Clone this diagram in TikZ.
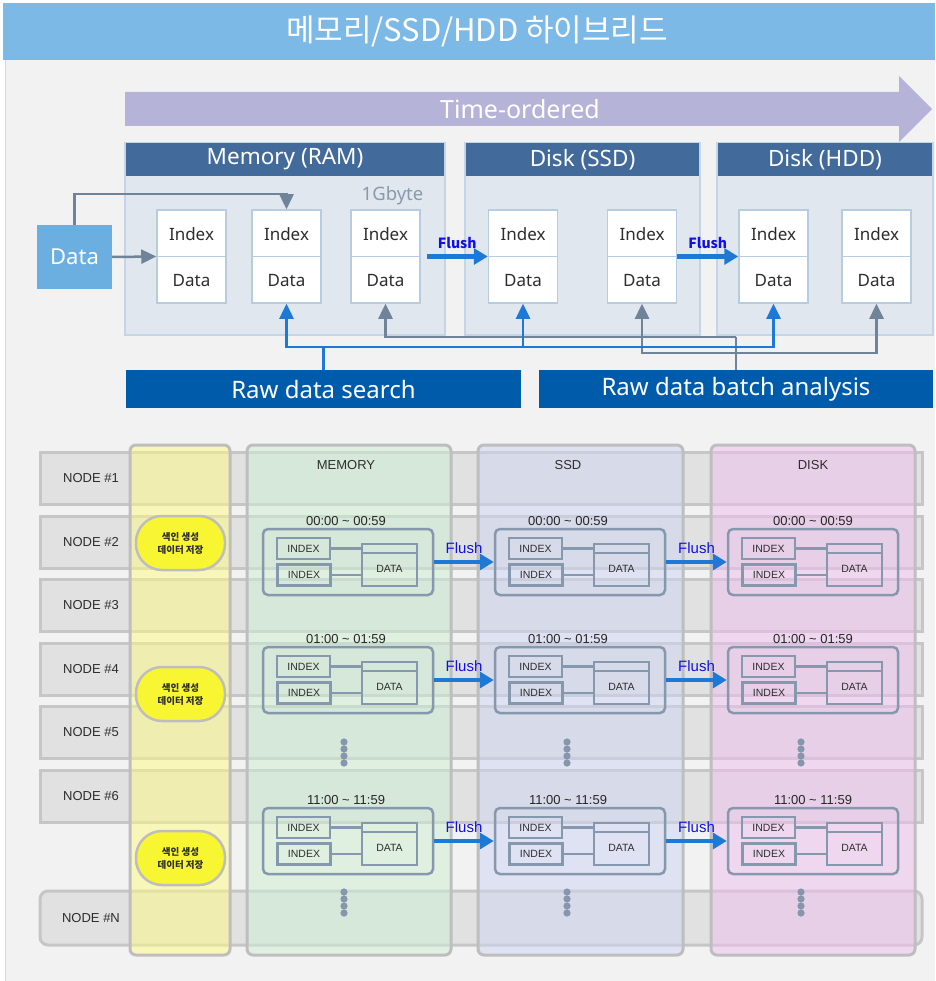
\documentclass[tikz,border=0pt]{standalone}
\usepackage{fontspec}
\setmainfont{Noto Sans}
\newfontfamily\kr{Noto Sans CJK KR}
\newfontfamily\arialish{Liberation Sans}
\usetikzlibrary{arrows.meta,calc}

\definecolor{titlebg}{RGB}{125,185,230}
\definecolor{pagebg}{RGB}{242,242,242}
\definecolor{timearrow}{RGB}{181,180,216}
\definecolor{hdrblue}{RGB}{66,106,154}
\definecolor{panelfill}{RGB}{225,231,239}
\definecolor{panelline}{RGB}{197,213,230}
\definecolor{boxline}{RGB}{184,204,224}
\definecolor{datablue}{RGB}{106,175,224}
\definecolor{connGray}{RGB}{111,131,153}
\definecolor{connBlue}{RGB}{30,120,214}
\definecolor{flushtxt}{RGB}{16,16,230}
\definecolor{darkbar}{RGB}{0,91,170}
\definecolor{gbyte}{RGB}{138,154,170}
\definecolor{bandfill}{RGB}{225,225,225}
\definecolor{bandline}{RGB}{198,198,198}
\definecolor{colline}{RGB}{190,190,190}
\definecolor{segcol}{RGB}{134,152,174}
\definecolor{dotc}{RGB}{134,150,172}
\definecolor{pill}{RGB}{248,246,50}
\definecolor{textdark}{RGB}{45,45,45}
\definecolor{colyellow}{RGB}{255,250,130}
\definecolor{colgreen}{RGB}{205,240,210}
\definecolor{colblue}{RGB}{205,212,242}
\definecolor{colpink}{RGB}{240,190,240}

% one segment: frame, two INDEX boxes and a DATA box
\newcommand\segbox[3]{%
  \node[segframe] (#1) at (#2+85,#3+33) {};
  \node[ixbox] (#1a) at (#2+40.5,#3+19.5) {INDEX};
  \node[ixbox] (#1b) at (#2+41,#3+46) {INDEX};
  \node[dxbox] (#1d) at (#2+126.5,#3+36) {};
  \draw[segln] ([yshift=-10pt]#1d.north west) -- ([yshift=-10pt]#1d.north east);
  \node[ixtxt] (#1t) at (#2+126.5,#3+40) {DATA};
  \draw[segln] (#1a.east) -- (#1a.east -| #1d.west);
  \draw[segln] (#1b.east) -- (#1b.east -| #1d.west);
}
% four stacked dots
\newcommand\dotcol[2]{%
  \foreach \k in {0,1,2,3} \fill[dotc] (#1,#2+7*\k) circle (3.6pt);
}

\begin{document}
\begin{tikzpicture}[x=1pt,y=-1pt,
  ibox/.style={draw=boxline, line width=1.5pt, fill=white, minimum width=69pt, minimum height=93pt, inner sep=0},
  itxt/.style={font=\fontsize{17}{20}\selectfont, text=textdark},
  panel/.style={draw=panelline, fill=panelfill, line width=2pt, minimum height=192pt, inner sep=0},
  phead/.style={fill=hdrblue, text=white, minimum height=33pt, inner sep=0, font=\fontsize{22.5}{24}\selectfont},
  garrow/.style={draw=connGray, line width=2.5pt, -{Triangle[width=14pt,length=15pt]}},
  gline/.style={draw=connGray, line width=2.5pt},
  barrow/.style={draw=connBlue, line width=2.5pt, -{Triangle[width=14pt,length=15pt]}},
  bline/.style={draw=connBlue, line width=2.5pt},
  flusharrow/.style={draw=connBlue, line width=4.5pt, -{Triangle[width=16pt,length=14pt]}},
  flushlab/.style={text=flushtxt, font=\kr\bfseries\fontsize{14}{16}\selectfont, inner sep=1pt},
  flushlabb/.style={text=flushtxt, font=\arialish\fontsize{15}{17}\selectfont, inner sep=1pt},
  bar/.style={fill=darkbar, text=white, minimum height=38pt, inner sep=0, font=\fontsize{24}{27}\selectfont},
  band/.style={draw=bandline, fill=bandfill, line width=3pt, minimum width=882pt, minimum height=52pt, inner sep=0},
  bandlab/.style={text=textdark, font=\arialish\fontsize{13}{15}\selectfont},
  colbox/.style={draw=colline, line width=3pt, rounded corners=6pt, fill opacity=0.5, minimum height=510pt, inner sep=0},
  coltitle/.style={text=textdark, font=\arialish\fontsize{13}{15}\selectfont},
  pillnode/.style={draw=colline, line width=2.5pt, fill=pill, rounded corners=26pt, minimum width=89pt, minimum height=54pt, inner sep=0, align=center, font=\kr\bfseries\fontsize{9.5}{13}\selectfont, text=textdark},
  timelab/.style={text=black!85, font=\arialish\fontsize{13}{15}\selectfont},
  segframe/.style={draw=segcol, line width=2.5pt, rounded corners=5pt, minimum width=170pt, minimum height=66pt, inner sep=0},
  ixbox/.style={draw=segcol, line width=2.5pt, minimum width=53pt, minimum height=21pt, inner sep=0, font=\arialish\fontsize{10.5}{12}\selectfont, text=textdark},
  dxbox/.style={draw=segcol, line width=2.5pt, minimum width=55pt, minimum height=42pt, inner sep=0},
  ixtxt/.style={font=\arialish\fontsize{10.5}{12}\selectfont, text=textdark},
  segln/.style={draw=segcol, line width=2.5pt}
]
\useasboundingbox (0,0) rectangle (935,981);
\fill[white] (0,0) rectangle (935,981);
\fill[pagebg] (5,60) rectangle (935,981);
\draw[black!15, line width=1pt] (5.5,60) -- (5.5,981);

% title bar
\node[fill=titlebg, minimum width=932pt, minimum height=57pt, inner sep=0] (title) at (469,31.5) {};
\node[text=white, font=\kr\fontsize{31}{34}\selectfont] (titletxt) at (477,31) {메모리/SSD/HDD 하이브리드};

% time arrow
\fill[timearrow] (125,92) -- (899,92) -- (899,76) -- (932,109) -- (899,142) -- (899,126) -- (125,126) -- cycle;
\node[text=white, font=\fontsize{25}{28}\selectfont] (timelbl) at (520,109) {Time-ordered};

% storage panels
\node[panel, minimum width=320pt] (pm) at (285,239) {};
\node[phead, minimum width=318pt] (pmh) at (285,159.5) {Memory (RAM)};
\node[panel, minimum width=235pt] (ps) at (582.5,239) {};
\node[phead, minimum width=233pt] (psh) at (582.5,159.5) {Disk (SSD)};
\node[panel, minimum width=216pt] (ph) at (825,239) {};
\node[phead, minimum width=214pt] (phh) at (825,159.5) {Disk (HDD)};
\node[text=gbyte, font=\fontsize{18.5}{21}\selectfont] (gb) at (392.5,196) {1Gbyte};

% index/data stacks
\foreach \nm/\xx in {m1/191.5, m2/286.5, m3/385.5, s1/523, s2/642, h1/773.5, h2/876.5}{
  \node[ibox] (\nm) at (\xx,256.5) {};
  \draw[boxline, line width=1.5pt] (\nm.west) -- (\nm.east);
  \node[itxt] (\nm i) at (\xx,234) {Index};
  \node[itxt] (\nm d) at (\xx,281) {Data};
}

% incoming data
\node[fill=datablue, text=white, minimum width=75pt, minimum height=64pt, inner sep=0, font=\fontsize{22}{24}\selectfont] (dat) at (74.5,257) {Data};
\draw[garrow] (dat.east) -- (m1.west);
\draw[garrow] (dat.north) |- ($(m2.north)+(0,-15)$) -- (m2.north);

% flush between tiers
\draw[flusharrow] ([xshift=6pt]m3.east) -- (s1.west) node[flushlab, midway, above=5pt] (fl1) {Flush};
\draw[flusharrow] (s2.east) -- (h1.west) node[flushlab, midway, above=5pt] (fl2) {Flush};

% query bars
\node[bar, minimum width=395pt] (srch) at (323.5,389) {Raw data search};
\node[bar, minimum width=394pt] (batch) at (736,389) {Raw data batch analysis};

\coordinate (busA) at (323.5,347);
\coordinate (busB) at (736,337);
\coordinate (busC) at (736,353);
\draw[gline] (batch.north) -- (busB);
\draw[garrow] (busB) -| (m3.south);
\draw[garrow] (busC) -| (s2.south);
\draw[garrow] (busC) -| (h2.south);
\draw[bline] (srch.north) -- (busA);
\draw[barrow] (busA) -| (m2.south);
\draw[barrow] (busA) -| (s1.south);
\draw[barrow] (busA) -| (h1.south);

% node rows
\foreach \nm/\yy/\lab in {n1/478/1, n2/542/2, n3/605.5/3, n4/669/4, n5/732.5/5, n6/796.5/6}{
  \node[band] (\nm) at (481,\yy) {};
  \node[bandlab] (\nm l) at (91,\yy) {NODE \#\lab};
}
\node[band, rounded corners=8pt, minimum height=54pt] (nN) at (481,918) {};
\node[bandlab] (nNl) at (91,918) {NODE \#N};

% tier columns
\node[colbox, fill=colyellow, minimum width=100pt] (cy) at (180,700) {};
\node[colbox, fill=colgreen, minimum width=204pt] (cm) at (349,700) {};
\node[colbox, fill=colblue, minimum width=205pt] (cs) at (580.5,700) {};
\node[colbox, fill=colpink, minimum width=204pt] (cd) at (813,700) {};
\node[coltitle] (cmt) at (346,465) {MEMORY};
\node[coltitle] (cst) at (568,465) {SSD};
\node[coltitle] (cdt) at (813,465) {DISK};

% index builders
\node[pillnode] (e1) at (180.5,543) {색인 생성\\데이터 저장};
\node[pillnode] (e2) at (180.5,694) {색인 생성\\데이터 저장};
\node[pillnode] (e3) at (180.5,858) {색인 생성\\데이터 저장};

% hourly segments
\foreach \r/\top/\tl in {A/529/00:00 \textasciitilde{} 00:59, B/647/01:00 \textasciitilde{} 01:59, C/808/11:00 \textasciitilde{} 11:59}{
  \segbox{mem\r}{263}{\top}
  \segbox{ssd\r}{495}{\top}
  \segbox{hdd\r}{728}{\top}
  \node[timelab] (tm\r) at (346,\top-8) {\tl};
  \node[timelab] (ts\r) at (568,\top-8) {\tl};
  \node[timelab] (th\r) at (813,\top-8) {\tl};
  \draw[flusharrow] (mem\r.east) -- (ssd\r.west) node[flushlabb, midway, above=5pt] (fa\r) {Flush};
  \draw[flusharrow] (ssd\r.east) -- (hdd\r.west) node[flushlabb, midway, above=5pt] (fb\r) {Flush};
}

% continuation dots
\dotcol{344}{742}\dotcol{567}{742}\dotcol{801}{742}
\dotcol{344}{892}\dotcol{567}{892}\dotcol{801}{892}
\end{tikzpicture}
\end{document}
